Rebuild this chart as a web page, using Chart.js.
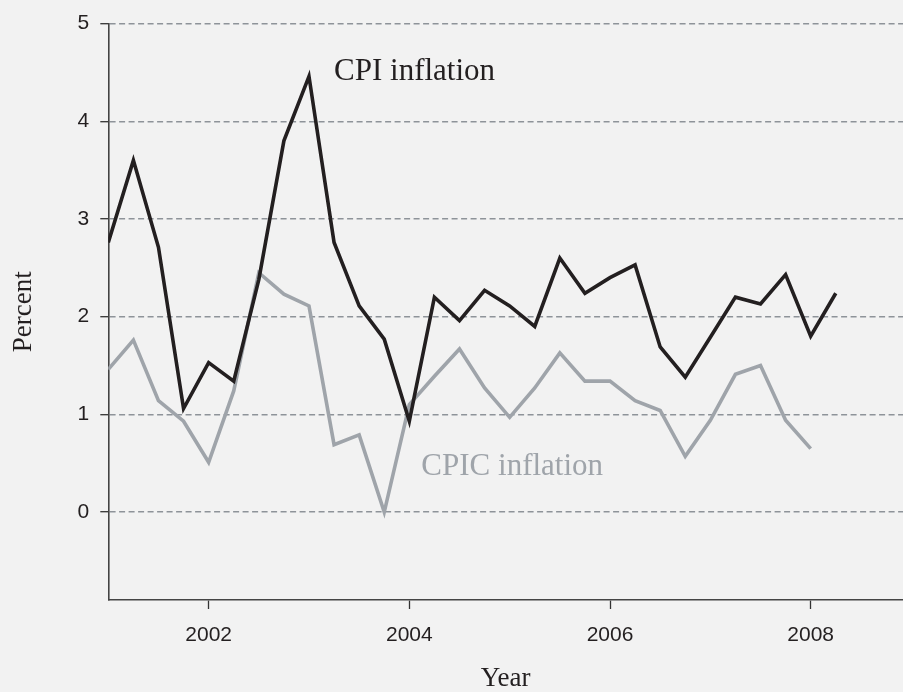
<!DOCTYPE html>
<html>
<head>
<meta charset="utf-8">
<script src="https://cdn.jsdelivr.net/npm/chart.js@4/dist/chart.umd.min.js"></script>
<style>
  html, body { margin: 0; padding: 0; background: #f2f2f2; }
  canvas { display: block; }
</style>
</head>
<body>
<canvas id="myChart" width="903" height="692"></canvas>
<script>
// quarterly observations (decimal year)
const quarters = [2001.00, 2001.25, 2001.50, 2001.75, 2002.00, 2002.25, 2002.50, 2002.75,
                  2003.00, 2003.25, 2003.50, 2003.75, 2004.00, 2004.25, 2004.50, 2004.75,
                  2005.00, 2005.25, 2005.50, 2005.75, 2006.00, 2006.25, 2006.50, 2006.75,
                  2007.00, 2007.25, 2007.50, 2007.75, 2008.00, 2008.25];
const cpi  = [2.76, 3.60, 2.71, 1.06, 1.53, 1.34, 2.38, 3.80,
              4.46, 2.76, 2.11, 1.77, 0.93, 2.20, 1.96, 2.27,
              2.11, 1.90, 2.60, 2.24, 2.40, 2.53, 1.69, 1.38,
              1.79, 2.20, 2.13, 2.43, 1.80, 2.24];
const cpic = [1.46, 1.76, 1.14, 0.93, 0.51, 1.24, 2.45, 2.23,
              2.11, 0.69, 0.79, 0.00, 1.10, 1.39, 1.67, 1.27,
              0.97, 1.27, 1.63, 1.34, 1.34, 1.14, 1.04, 0.57,
              0.94, 1.41, 1.50, 0.94, 0.65];
const xTicks = [2002, 2004, 2006, 2008];
const yTicks = [0, 1, 2, 3, 4, 5];

const ink = "#231f20";
const grey = "#9fa4aa";

const toPoints = (vals) => vals.map((v, i) => ({x: quarters[i], y: v}));

// paints the page colour behind everything
const background = {
    id: "background",
    beforeDraw(chart) {
        const ctx = chart.ctx;
        ctx.save();
        ctx.fillStyle = "#f2f2f2";
        ctx.fillRect(0, 0, chart.width, chart.height);
        ctx.restore();
    }
};

// in-plot series labels, anchored in data units
const seriesLabels = {
    id: "seriesLabels",
    afterDatasetsDraw(chart, args, opts) {
        const {ctx, scales: {x, y}} = chart;
        ctx.save();
        ctx.font = "31px 'Liberation Serif', serif";
        ctx.textBaseline = "alphabetic";
        ctx.textAlign = "left";
        opts.items.forEach(item => {
            ctx.fillStyle = item.color;
            ctx.fillText(item.text, x.getPixelForValue(item.x), y.getPixelForValue(item.y));
        });
        ctx.restore();
    }
};

new Chart(document.querySelector("#myChart"), {
    type: "line",
    data: {
        datasets: [
            {
                label: "CPI inflation",
                data: toPoints(cpi),
                borderColor: ink,
                borderWidth: 3.6,
                pointRadius: 0,
                tension: 0,
                borderJoinStyle: "miter",
            },
            {
                label: "CPIC inflation",
                data: toPoints(cpic),
                borderColor: grey,
                borderWidth: 3.6,
                pointRadius: 0,
                tension: 0,
                borderJoinStyle: "miter",
            }
        ]
    },
    options: {
        responsive: false,
        animation: false,
        devicePixelRatio: 1,
        layout: {
            padding: {top: 22.5, right: 0, bottom: 0, left: 0},
        },
        scales: {
            x: {
                type: "linear",
                min: 2001,
                max: 2008.92,
                afterBuildTicks: (scale) => { scale.ticks = xTicks.map(v => ({value: v})); },
                afterFit: (scale) => { scale.height = 92; },
                grid: {
                    drawOnChartArea: false,
                    tickLength: 9,
                    tickColor: "#333",
                    tickWidth: 1.3,
                },
                border: {color: "#444", width: 1.6},
                ticks: {
                    color: ink,
                    padding: 14,
                    maxRotation: 0,
                    font: {family: "'Liberation Sans', Arial, sans-serif", size: 21},
                    callback: (v) => String(v),
                },
                title: {
                    display: true,
                    text: "Year",
                    color: ink,
                    padding: {top: 0, bottom: 0},
                    font: {family: "'Liberation Serif', serif", size: 27, lineHeight: 1.0},
                },
            },
            y: {
                min: -0.9,
                max: 5,
                afterBuildTicks: (scale) => { scale.ticks = yTicks.map(v => ({value: v})); },
                afterFit: (scale) => { scale.width = 108.3; },
                grid: {
                    color: "#8e9399",
                    lineWidth: 1.4,
                    tickLength: 8,
                    tickColor: "#333",
                    tickWidth: 1.3,
                    tickBorderDash: [],
                },
                border: {color: "#444", width: 1.6, dash: [6, 3.5]},
                ticks: {
                    color: ink,
                    padding: 11,
                    font: {family: "'Liberation Sans', Arial, sans-serif", size: 21},
                },
                title: {
                    display: true,
                    text: "Percent",
                    color: ink,
                    padding: {top: 8, bottom: 0},
                    font: {family: "'Liberation Serif', serif", size: 27},
                },
            },
        },
        plugins: {
            legend: {display: false},
            tooltip: {enabled: false},
            seriesLabels: {
                items: [
                    {text: "CPI inflation", x: 2003.25, y: 4.42, color: ink},
                    {text: "CPIC inflation", x: 2004.12, y: 0.38, color: grey},
                ]
            },
        },
    },
    plugins: [background, seriesLabels],
});
</script>
</body>
</html>
